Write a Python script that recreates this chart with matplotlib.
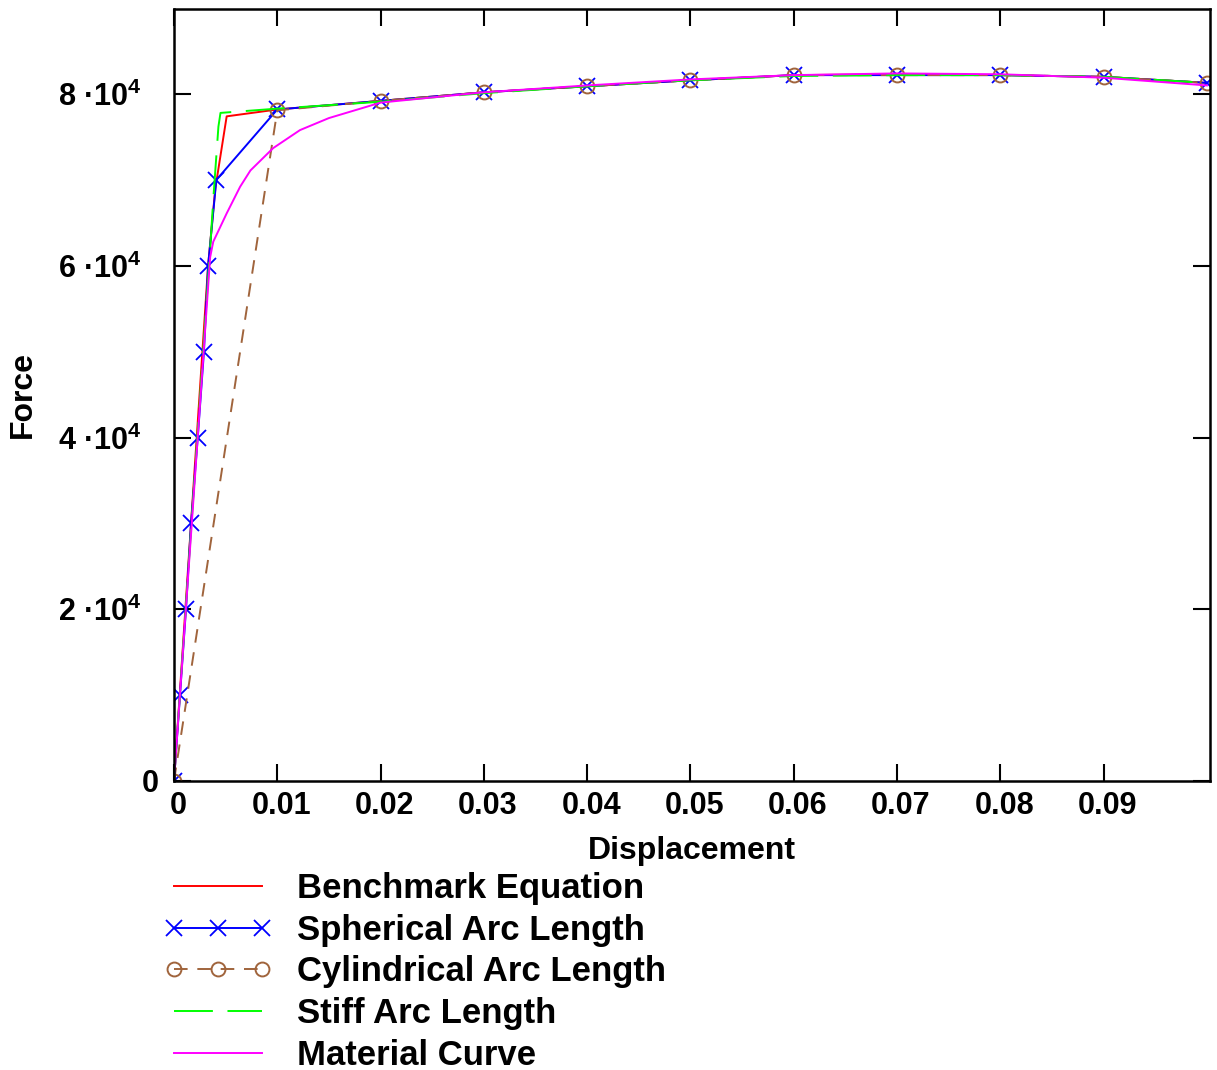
import numpy as np
import matplotlib.pyplot as plt
from matplotlib.ticker import FixedLocator, FixedFormatter
from matplotlib.transforms import ScaledTranslation

# load-displacement data for each solution method
bench_disp = [0, 0.0033, 0.0040, 0.0051, 0.010, 0.020, 0.030, 0.040, 0.050,
              0.060, 0.070, 0.080, 0.090, 0.100]
bench_force = [0, 60000, 69000, 77400, 78200, 79200, 80200, 80900, 81600,
               82200, 82300, 82200, 82000, 81300]

sph_disp = [0, 0.00058, 0.00116, 0.00165, 0.0023, 0.0029, 0.0033, 0.0041,
            0.010, 0.020, 0.030, 0.040, 0.050, 0.060, 0.070, 0.080, 0.090, 0.100]
sph_force = [0, 10000, 20000, 30000, 40000, 50000, 60000, 70000,
             78200, 79200, 80200, 80900, 81600, 82200, 82200, 82200, 82000, 81300]

cyl_disp = [0, 0.010, 0.020, 0.030, 0.040, 0.050, 0.060, 0.070, 0.080, 0.090, 0.100]
cyl_force = [0, 78100, 79200, 80200, 80900, 81600, 82200, 82200, 82200, 82000, 81300]

stiff_disp = [0, 0.0035, 0.0038, 0.0043, 0.0045, 0.010, 0.020, 0.030, 0.040,
              0.050, 0.060, 0.070, 0.080, 0.090, 0.100]
stiff_force = [0, 62000, 67700, 76200, 77800, 78300, 79100, 80100, 80900,
               81600, 82100, 82200, 82200, 82000, 81300]

mat_disp = [0, 0.0035, 0.0038, 0.0051, 0.0064, 0.0074, 0.0096, 0.0122, 0.015,
            0.020, 0.030, 0.040, 0.050, 0.060, 0.070, 0.080, 0.090, 0.100]
mat_force = [0, 61000, 62800, 66100, 69200, 71100, 73700, 75800, 77200,
             79000, 80200, 81000, 81700, 82200, 82400, 82300, 81900, 81000]

x_ticks = [0, 0.01, 0.02, 0.03, 0.04, 0.05, 0.06, 0.07, 0.08, 0.09]
x_tick_labels = ['0', '0.01', '0.02', '0.03', '0.04', '0.05', '0.06', '0.07', '0.08', '0.09']
y_ticks = [0, 20000, 40000, 60000, 80000]
y_tick_labels = ['0', r'2 ·10$^{4}$', r'4 ·10$^{4}$', r'6 ·10$^{4}$', r'8 ·10$^{4}$']

plt.rcParams['font.family'] = ['Liberation Sans', 'DejaVu Sans']
plt.rcParams['font.weight'] = 'bold'
plt.rcParams['mathtext.fontset'] = 'custom'
plt.rcParams['mathtext.rm'] = 'Liberation Sans:bold'
plt.rcParams['mathtext.it'] = 'Liberation Sans:bold'
plt.rcParams['mathtext.bf'] = 'Liberation Sans:bold'

fig = plt.figure(figsize=(12.17, 10.70), dpi=100)
ax = fig.add_axes([174 / 1217, 1 - 781 / 1070, (1210 - 174) / 1217, (781 - 9) / 1070])

brown = '#A0643C'
ax.plot(bench_disp, bench_force, color='#FF0000', lw=1.4, label='Benchmark Equation')
ax.plot(sph_disp, sph_force, color='#0000FF', lw=1.4, marker='x', ms=11, mew=1.3,
        label='Spherical Arc Length')
ax.plot(cyl_disp, cyl_force, color=brown, lw=1.4, ls=(0, (7, 5)), marker='o',
        ms=10, mfc='none', mew=1.4, label='Cylindrical Arc Length')
ax.plot(stiff_disp, stiff_force, color='#00FF00', lw=1.4, ls=(0, (20, 7.5)),
        label='Stiff Arc Length')
ax.plot(mat_disp, mat_force, color='#FF00FF', lw=1.4, label='Material Curve')

ax.set_xlim(0, 0.1003)
ax.set_ylim(0, 89900)
ax.xaxis.set_major_locator(FixedLocator(x_ticks))
ax.xaxis.set_major_formatter(FixedFormatter(x_tick_labels))
ax.yaxis.set_major_locator(FixedLocator(y_ticks))
ax.yaxis.set_major_formatter(FixedFormatter(y_tick_labels))
ax.tick_params(direction='in', length=12, width=1.5, top=True, right=True,
               labelsize=22)
ax.tick_params(axis='x', pad=7)
ax.tick_params(axis='y', pad=23.5)
for sp in ax.spines.values():
    sp.set_linewidth(1.8)

ax.set_xlabel('Displacement', fontsize=23, fontweight='bold', labelpad=11)
ax.set_ylabel('Force', fontsize=23, fontweight='bold', labelpad=14)

# nudge the tick labels a little: x labels right, the y "0" towards the axis
for tick in ax.xaxis.get_major_ticks():
    lbl = tick.label1
    lbl.set_transform(lbl.get_transform() + ScaledTranslation(4 / 100, 0, fig.dpi_scale_trans))
zero_lbl = ax.yaxis.get_major_ticks()[0].label1
zero_lbl.set_transform(zero_lbl.get_transform() + ScaledTranslation(17 / 100, 0, fig.dpi_scale_trans))

fig.legend(loc='upper left', bbox_to_anchor=(163.5 / 1217, 1 - 872 / 1070),
           frameon=False, handlelength=3.14, handletextpad=0.7,
           labelspacing=0.25, borderpad=0, borderaxespad=0, numpoints=3,
           prop={'weight': 'bold', 'size': 25})

fig.savefig('out.png', dpi=100)
